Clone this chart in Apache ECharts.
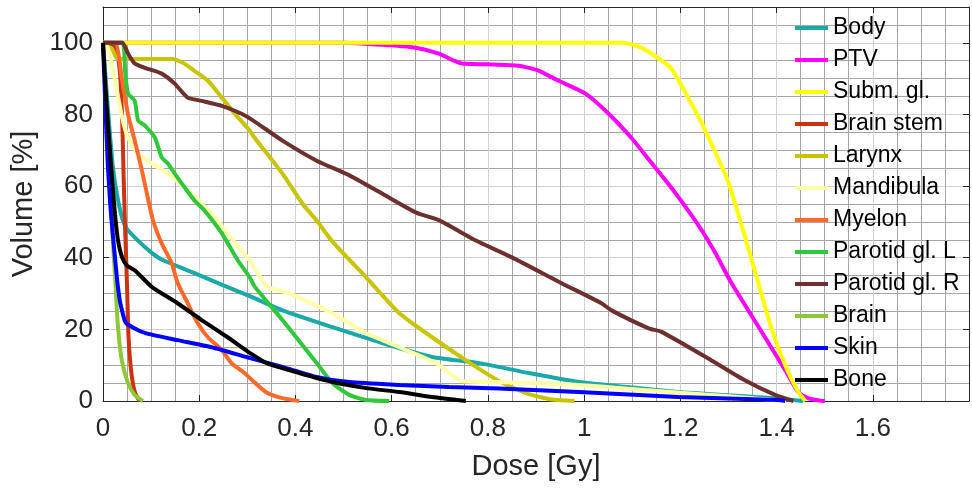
<!DOCTYPE html>
<html>
<head>
<meta charset="utf-8">
<script src="https://cdn.jsdelivr.net/npm/echarts@6/dist/echarts.min.js"></script>
<style>
html,body{margin:0;padding:0;background:#fff;}
#chart{width:972px;height:488px;}
</style>
</head>
<body>
<div id="chart"></div>
<script>
// Dose [Gy] / Volume [%] pairs
const body = [[0,100],[0.01,82],[0.02,66],[0.03,57],[0.04,51],[0.05,48],[0.075,44.5],[0.1,41.5],[0.122,39.5],[0.19,35.7],[0.259,31.8],[0.31,29],[0.373,25.3],[0.477,20.6],[0.58,16.2],[0.684,12.3],[0.785,10.5],[0.885,7.8],[0.989,5.3],[1.092,3.9],[1.196,2.5],[1.3,1.6],[1.397,0.8],[1.455,0]];
const ptv = [[0,100],[0.5,100],[0.55,99.7],[0.6,99.3],[0.65,98.6],[0.698,97],[0.73,95],[0.746,94.2],[0.8,94],[0.864,93.6],[0.906,92.2],[0.947,89.4],[1.003,85.8],[1.051,80.2],[1.098,73.5],[1.134,67.5],[1.181,59.6],[1.237,49.2],[1.27,42],[1.306,33],[1.376,17.8],[1.418,8.6],[1.445,2.5],[1.465,0.8],[1.49,0.1],[1.5,0]];
const subm = [[0,100],[1.08,100],[1.1,99.5],[1.113,99],[1.14,97],[1.18,93],[1.215,85],[1.25,76],[1.3,61],[1.347,40],[1.389,20.5],[1.418,10],[1.445,2.5],[1.46,0]];
const brainStem = [[0,100],[0.025,99],[0.035,92],[0.04,78],[0.043,62],[0.046,48],[0.05,32],[0.053,18],[0.058,9],[0.065,3],[0.072,0.8],[0.077,0]];
const larynx = [[0,100],[0.02,98],[0.03,95.5],[0.143,95.5],[0.165,94.5],[0.19,92.2],[0.218,89.4],[0.247,84.7],[0.274,80.2],[0.305,75.5],[0.315,73.5],[0.373,63.5],[0.415,55],[0.444,50.4],[0.477,44.5],[0.547,34.5],[0.616,24.5],[0.684,17.8],[0.754,11.4],[0.82,5.8],[0.879,2.2],[0.933,0.4],[0.98,0]];
const mandibula = [[0,100],[0.01,98.6],[0.025,89.4],[0.04,79],[0.052,73.5],[0.073,69],[0.102,66.3],[0.135,63.5],[0.17,59.6],[0.205,55.1],[0.238,50.4],[0.27,44.8],[0.305,39.3],[0.34,32],[0.388,30],[0.477,24.5],[0.547,18.9],[0.616,15],[0.692,10.6],[0.746,5.6],[0.823,5.3],[0.989,4.5],[1.134,3.0],[1.25,1.8],[1.35,0.8],[1.42,0]];
const myelon = [[0,100],[0.025,100],[0.04,89.4],[0.052,80],[0.066,72.7],[0.081,64.3],[0.093,56.8],[0.104,50.4],[0.122,44],[0.143,38.4],[0.155,33],[0.176,27.3],[0.197,21.7],[0.218,17.8],[0.247,14.2],[0.267,10.6],[0.294,7.8],[0.315,5.2],[0.34,2.4],[0.373,0.8],[0.408,0]];
const parotidL = [[0,100],[0.04,100],[0.046,92],[0.052,85.8],[0.066,83.8],[0.073,78.3],[0.087,76.9],[0.108,73.5],[0.122,68],[0.135,66.3],[0.149,63.5],[0.17,59.6],[0.19,56],[0.211,53.2],[0.247,46.8],[0.28,39.3],[0.305,34.5],[0.315,32],[0.373,22.6],[0.444,10.6],[0.477,5],[0.512,1.7],[0.547,0.3],[0.595,0]];
const parotidR = [[0,100],[0.04,100],[0.052,97],[0.066,94.2],[0.087,93],[0.122,91.4],[0.149,88.6],[0.176,84.7],[0.205,83.8],[0.247,82.4],[0.288,80.2],[0.31,78.5],[0.373,72.7],[0.444,67.1],[0.512,63],[0.58,57.9],[0.651,52.6],[0.698,50.5],[0.775,44.8],[0.85,40.1],[0.953,32.9],[1.036,27.3],[1.057,25.3],[1.134,20.3],[1.161,19.3],[1.264,11.4],[1.334,5.8],[1.397,1.7],[1.435,0]];
const brain = [[0,100],[0.005,88],[0.01,74],[0.015,60],[0.02,46],[0.025,35],[0.031,21],[0.039,11.4],[0.052,5],[0.066,1.7],[0.083,0]];
const skin = [[0,100],[0.005,82],[0.01,66],[0.015,55],[0.02,47],[0.025,40],[0.03,33],[0.035,28],[0.04,25],[0.045,22.5],[0.05,21.5],[0.087,19],[0.155,17],[0.226,15],[0.3,12.2],[0.373,9.5],[0.444,6.7],[0.512,5.3],[0.616,4.5],[0.719,3.9],[0.823,3.5],[0.989,2.5],[1.196,1.1],[1.403,0.3],[1.418,0]];
const bone = [[0,100],[0.005,88],[0.01,78],[0.015,69],[0.02,60],[0.025,52],[0.031,45],[0.04,40],[0.05,37.8],[0.066,36.5],[0.102,31.8],[0.155,27.3],[0.205,22.6],[0.259,17.8],[0.31,13],[0.34,10.6],[0.408,7.8],[0.477,5.3],[0.547,3.6],[0.616,2.5],[0.684,1.1],[0.754,0]];

const names = ['Body','PTV','Subm. gl.','Brain stem','Larynx','Mandibula','Myelon','Parotid gl. L','Parotid gl. R','Brain','Skin','Bone'];
const colors = ['#19a9a9','#ff00ff','#ffff00','#cc3310','#c8c400','#ffffa8','#ff6a2a','#30c83a','#6e2f2f','#8cc83a','#0000ff','#000000'];
const datasets = [body,ptv,subm,brainStem,larynx,mandibula,myelon,parotidL,parotidR,brain,skin,bone];

const axisColor = '#262626';
const font = 'Liberation Sans, Arial, Helvetica, sans-serif';

const chart = echarts.init(document.getElementById('chart'), null, {renderer:'canvas'});
chart.setOption({
  animation: false,
  backgroundColor: '#fff',
  grid: {left: 103, right: 1, top: 7, bottom: 87, containLabel: false},
  legend: {
    orient: 'vertical', left: 795, top: 16, padding: 0,
    icon: 'rect', itemWidth: 33, itemHeight: 4, itemGap: 8,
    textStyle: {fontFamily: font, fontSize: 23, color: '#000', lineHeight: 24},
    data: names
  },
  xAxis: [{
    type: 'value', min: 0, max: 1.8, interval: 0.2,
    name: 'Dose [Gy]', nameLocation: 'middle', nameGap: 51,
    nameTextStyle: {fontFamily: font, fontSize: 29, color: axisColor},
    axisLine: {show: true, onZero: false, lineStyle: {color: axisColor, width: 1}},
    axisTick: {show: true, inside: true, length: 6, lineStyle: {color: axisColor}},
    axisLabel: {fontFamily: font, fontSize: 26, color: axisColor, margin: 15,
      formatter: v => v > 1.75 ? '' : String(+v.toFixed(1))},
    splitLine: {show: true, lineStyle: {color: '#d2d2d2', width: 1}},
    minorTick: {show: false, splitNumber: 4},
    minorSplitLine: {show: true, lineStyle: {color: '#a6a6a6', width: 1}}
  },{
    type: 'value', position: 'top', min: 0, max: 1.8, interval: 0.2,
    axisLine: {show: true, onZero: false, lineStyle: {color: axisColor, width: 1}},
    axisTick: {show: true, inside: true, length: 6, lineStyle: {color: axisColor}},
    axisLabel: {show: false}, splitLine: {show: false}
  }],
  yAxis: [{
    type: 'value', min: 0, max: 110, interval: 20,
    name: 'Volume [%]', nameLocation: 'middle', nameGap: 60,
    nameTextStyle: {fontFamily: font, fontSize: 29, color: axisColor},
    axisLine: {show: true, onZero: false, lineStyle: {color: axisColor, width: 1}},
    axisTick: {show: true, inside: true, length: 6, lineStyle: {color: axisColor}},
    axisLabel: {fontFamily: font, fontSize: 26, color: axisColor, margin: 10,
      formatter: v => v > 105 ? '' : String(v)},
    splitLine: {show: true, lineStyle: {color: '#d2d2d2', width: 1}},
    minorTick: {show: false, splitNumber: 4},
    minorSplitLine: {show: true, lineStyle: {color: '#a6a6a6', width: 1}}
  },{
    type: 'value', position: 'right', min: 0, max: 110, interval: 20,
    axisLine: {show: true, onZero: false, lineStyle: {color: axisColor, width: 1}},
    axisTick: {show: true, inside: true, length: 6, lineStyle: {color: axisColor}},
    axisLabel: {show: false}, splitLine: {show: false}
  }],
  series: names.map((n, i) => ({
    name: n, type: 'line', data: datasets[i],
    xAxisIndex: 0, yAxisIndex: 0,
    showSymbol: false, symbol: 'none',
    smooth: 0.2,
    color: colors[i],
    lineStyle: {color: colors[i], width: 4},
    itemStyle: {color: colors[i]},
    emphasis: {disabled: true}
  }))
});
</script>
</body>
</html>
